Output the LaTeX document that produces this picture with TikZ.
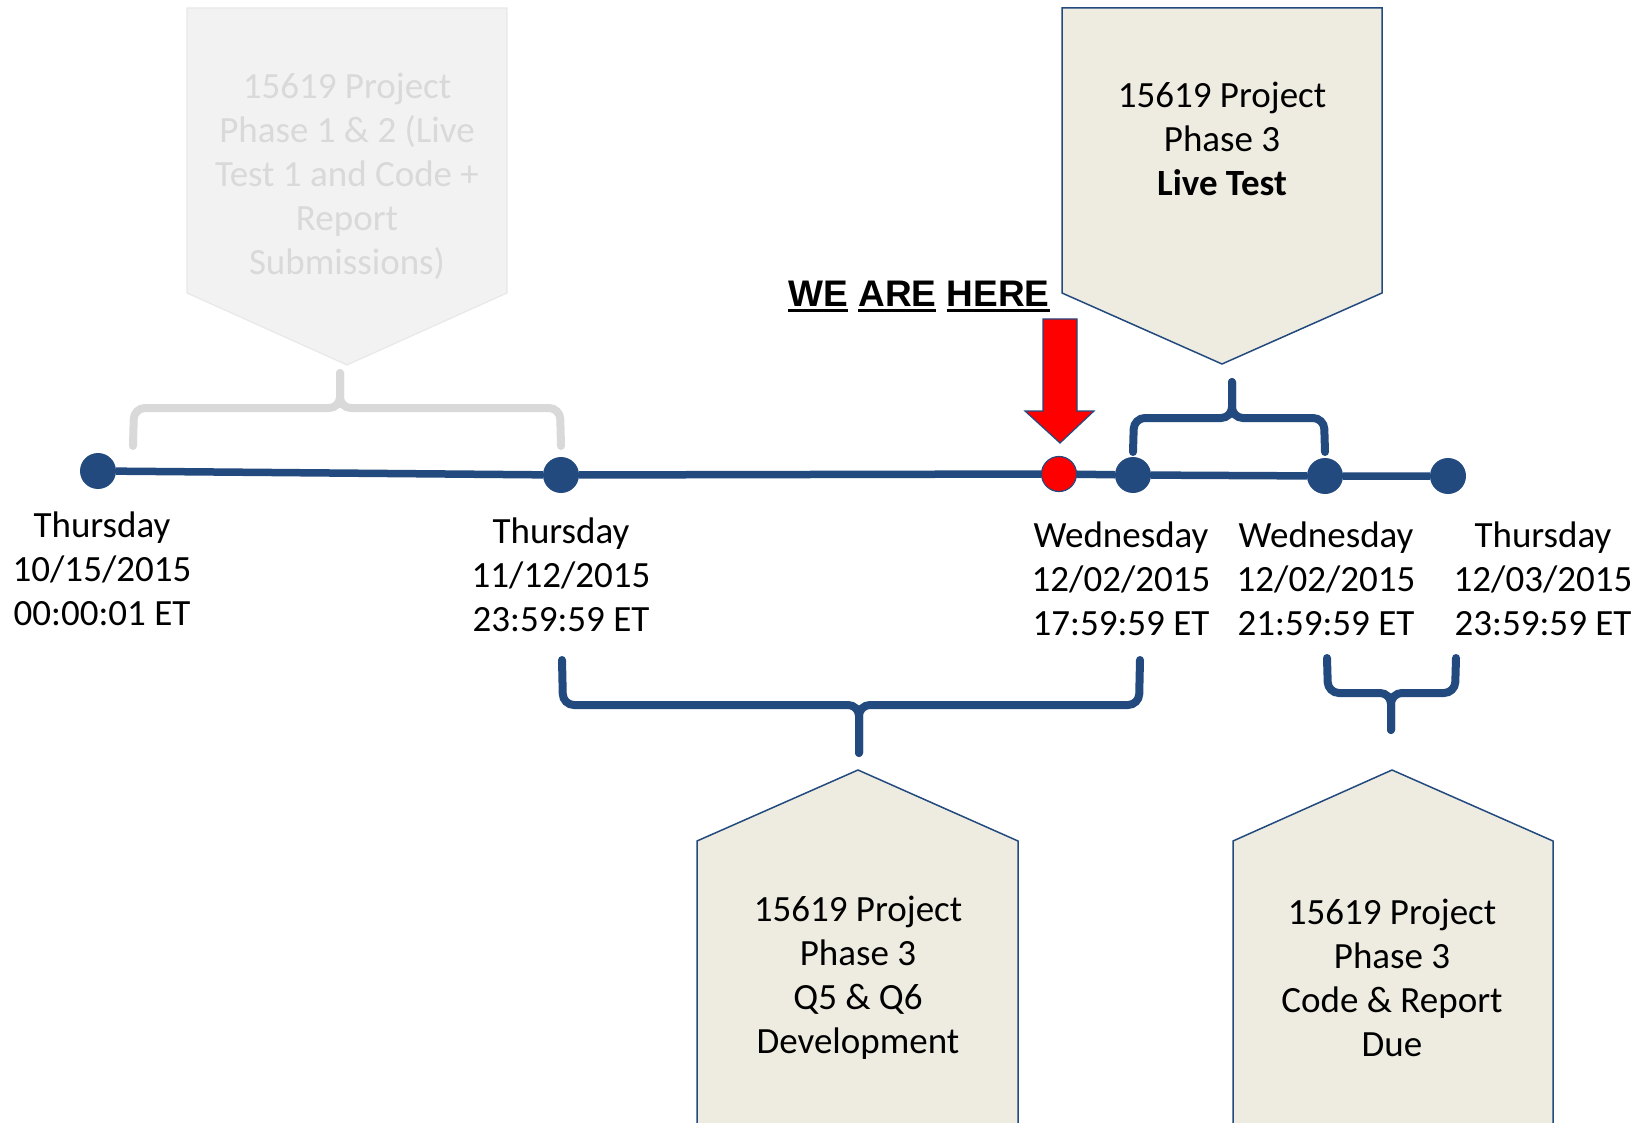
\documentclass[tikz,border=0pt]{standalone}
\usepackage{fontspec}
\setmainfont{Carlito}
\newfontfamily\arialfont{Liberation Sans}
\usepackage{tikz}
\usetikzlibrary{positioning}
\newcommand{\hereline}[1]{\vtop{\hbox{#1}\kern2pt\hrule height 3.5pt}}
\definecolor{tlblue}{RGB}{34,74,126}
\definecolor{boxfill}{RGB}{238,236,225}
\definecolor{ghost}{RGB}{217,217,217}
\definecolor{ghostfill}{RGB}{242,242,242}
\definecolor{ghostline}{RGB}{232,232,232}

\tikzset{
    dot/.style={shape=circle, fill=tlblue, inner sep=0pt, minimum size=36pt},
    heredot/.style={shape=circle, fill=red, draw=tlblue, line width=1.2pt, inner sep=0pt, minimum size=35pt},
    datelabel/.style={align=center, font=\fontsize{37}{44}\selectfont},
    timeline/.style={line width=7.5pt, tlblue},
    bracket/.style={line width=8pt, rounded corners=11pt, line cap=round},
    phasebox/.style={draw=tlblue, fill=boxfill, line width=1.5pt},
}

\begin{document}
\begin{tikzpicture}[x=1pt, y=-1pt]
    \useasboundingbox (0,0) rectangle (1650,1123);

    % phase boxes
    \draw[fill=ghostfill, draw=ghostline, line width=1.2pt] (187,8) -- (507,8) -- (507,293) -- (347,365) -- (187,293) -- cycle;
    \node[datelabel, text=ghost] (oldphase) at (347,176) {15619 Project\\Phase 1 \& 2 (Live\\Test 1 and Code +\\Report\\Submissions)};

    \draw[phasebox] (1062,8) -- (1382,8) -- (1382,293) -- (1222,364) -- (1062,293) -- cycle;
    \node[datelabel] (livetest) at (1222,139) {15619 Project\\Phase 3\\\textbf{Live Test}};

    \draw[phasebox] (697,1140) -- (697,841) -- (858,770) -- (1018,841) -- (1018,1140);
    \node[datelabel] (devel) at (858,978) {15619 Project\\Phase 3\\Q5 \& Q6\\Development};

    \draw[phasebox] (1233,1140) -- (1233,841) -- (1392,770) -- (1553,841) -- (1553,1140);
    \node[datelabel] (codedue) at (1392,978) {15619 Project\\Phase 3\\Code \& Report\\Due};

    % timeline
    \node[dot] (d1) at (98,471) {};
    \node[dot] (d2) at (561,475) {};
    \node[heredot] (here) at (1059,474) {};
    \node[dot] (d3) at (1133,475) {};
    \node[dot] (d4) at (1325,476) {};
    \node[dot] (d5) at (1448,476) {};
    \draw[timeline] (d1) -- (d2) -- (here) -- (d3) -- (d4) -- (d5);

    \node[datelabel] (t1) at (102,569) {Thursday\\10/15/2015\\00:00:01 ET};
    \node[datelabel] (t2) at (561,575) {Thursday\\11/12/2015\\23:59:59 ET};
    \node[datelabel] (t3) at (1121,579) {Wednesday\\12/02/2015\\17:59:59 ET};
    \node[datelabel] (t4) at (1326,579) {Wednesday\\12/02/2015\\21:59:59 ET};
    \node[datelabel] (t5) at (1543,579) {Thursday\\12/03/2015\\23:59:59 ET};

    % we are here
    \node[anchor=base, font=\arialfont\bfseries\fontsize{37}{44}\selectfont, inner sep=0pt] (weare) at (919,307) {\hereline{WE} \hereline{ARE} \hereline{HERE}};
    \draw[fill=red, draw=tlblue, line width=1.2pt] (1043,319) -- (1077,319) -- (1077,411) -- (1094,411) -- (1060,443) -- (1025,411) -- (1043,411) -- cycle;

    % brackets
    \coordinate (oldL) at (133,446);
    \coordinate (oldR) at (561,446);
    \coordinate (oldTip) at (340,373);
    \draw[bracket, ghost] (oldL) -- (134,408) -- (340,408) -- (oldTip);
    \draw[bracket, ghost] (oldR) -- (560,408) -- (340,408) -- (oldTip);

    \coordinate (liveL) at (1133,452);
    \coordinate (liveR) at (1325,452);
    \coordinate (liveTip) at (1232,382);
    \draw[bracket, tlblue] (liveL) -- (1134,418) -- (1232,418) -- (liveTip);
    \draw[bracket, tlblue] (liveR) -- (1324,418) -- (1232,418) -- (liveTip);

    \coordinate (devL) at (562,660);
    \coordinate (devR) at (1140,660);
    \coordinate (devTip) at (859,753);
    \draw[bracket, tlblue] (devL) -- (563,705) -- (859,705) -- (devTip);
    \draw[bracket, tlblue] (devR) -- (1139,705) -- (859,705) -- (devTip);

    \coordinate (dueL) at (1327,658);
    \coordinate (dueR) at (1456,658);
    \coordinate (dueTip) at (1391,730);
    \draw[bracket, tlblue] (dueL) -- (1328,693) -- (1391,693) -- (dueTip);
    \draw[bracket, tlblue] (dueR) -- (1455,693) -- (1391,693) -- (dueTip);
\end{tikzpicture}
\end{document}
